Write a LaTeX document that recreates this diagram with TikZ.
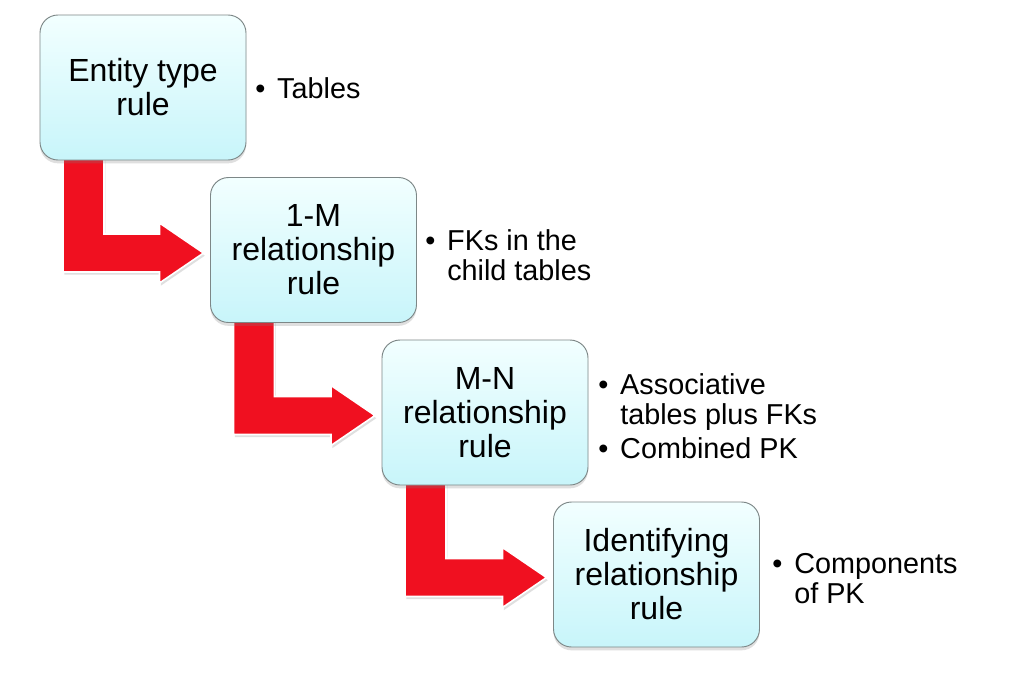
\documentclass[tikz,border=0pt]{standalone}
\usepackage{fontspec}
\setmainfont{Liberation Sans}
\usetikzlibrary{calc,shadows}
\definecolor{boxtop}{RGB}{242,255,255}
\definecolor{boxbot}{RGB}{200,245,250}
\definecolor{boxline}{RGB}{125,135,135}
\definecolor{arrowred}{RGB}{240,16,32}
\tikzset{
  rulebox/.style={rectangle, rounded corners=13.5pt, draw=boxline, line width=0.7pt,
    top color=boxtop, bottom color=boxbot,
    minimum width=154.5pt, minimum height=108.75pt, inner sep=0pt,
    align=center, font={\fontsize{24}{25.5}\selectfont},
    drop shadow={opacity=0.25, shadow xshift=0pt, shadow yshift=-2.5pt}},
  redarrow/.style={fill=arrowred, draw=white, line width=1.2pt,
    drop shadow={opacity=0.25, shadow xshift=1pt, shadow yshift=-2pt}},
  bullets/.style={anchor=west, inner sep=0pt, align=left,
    font={\fontsize{21.6}{22.5}\selectfont}},
}
\newcommand{\bu}{\makebox[16.5pt][l]{\textbullet}}
\begin{document}
\begin{tikzpicture}[x=0.75pt,y=-0.75pt]
\useasboundingbox[fill=white] (0,0) rectangle (1020,686);
\path (143,87.5) coordinate (c1) (313.5,250) coordinate (c2)
      (485,412.5) coordinate (c3) (656.5,574.5) coordinate (c4);
\path (c1) ++(-103,72.5) coordinate (sw1);
\path (c2) ++(-103,72.5) coordinate (sw2);
\path (c3) ++(-103,72.5) coordinate (sw3);
\path (c2) ++(-103,0) coordinate (w2);
\path (c3) ++(-103,0) coordinate (w3);
\path (c4) ++(-103,0) coordinate (w4);
\foreach \i/\j in {1/2,2/3,3/4}{
  \coordinate (L\i) at ($(sw\i)+(23,-10)$);
  \coordinate (R\i) at ($(sw\i)+(64,-10)$);
  \coordinate (T\i) at ($(w\j)+(-7,3)$);
  \coordinate (U\i) at ($(T\i)+(-44,-19)$);
  \coordinate (D\i) at ($(T\i)+(-44,19)$);
  \coordinate (UU\i) at ($(T\i)+(-44,-30)$);
  \coordinate (DD\i) at ($(T\i)+(-44,30)$);
  \draw[redarrow] (L\i) -- (R\i) -- (R\i |- U\i) -- (U\i) -- (UU\i) -- (T\i)
     -- (DD\i) -- (D\i) -- (L\i |- D\i) -- cycle;
}
\node[rulebox] (b1) at (c1) {Entity type\\rule};
\node[rulebox] (b2) at (c2) {1-M\\relationship\\rule};
\node[rulebox] (b3) at (c3) {M-N\\relationship\\rule};
\node[rulebox] (b4) at (c4) {Identifying\\relationship\\rule};
\node[bullets] (t1) at (255,88) {\bu Tables};
\node[bullets] (t2) at (425,255) {\bu FKs in the\\\hspace*{16.5pt}child tables};
\node[bullets] (t3) at (598,416) {\bu Associative\\\hspace*{16.5pt}tables plus FKs\\[3pt]\bu Combined PK};
\node[bullets] (t4) at (772,579) {\bu Components\\\hspace*{16.5pt}of PK};
\end{tikzpicture}
\end{document}
